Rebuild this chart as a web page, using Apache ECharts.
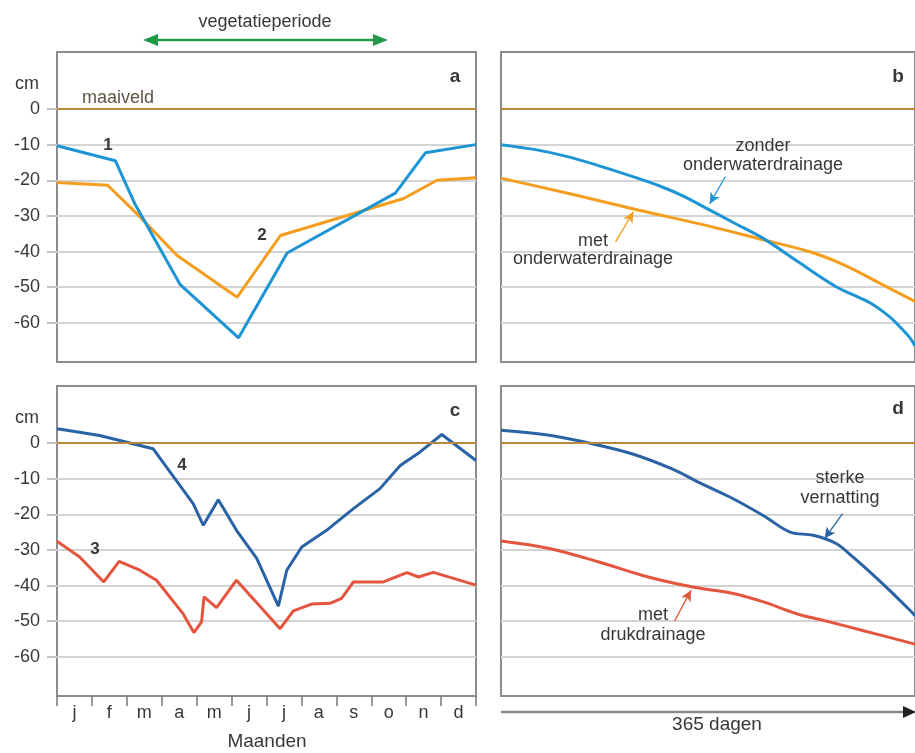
<!DOCTYPE html>
<html>
<head>
<meta charset="utf-8">
<script src="https://cdn.jsdelivr.net/npm/echarts@6/dist/echarts.min.js"></script>
<style>
html, body { margin: 0; padding: 0; background: #fff; }
#chart { width: 915px; height: 753px; }
</style>
</head>
<body>
<div id="chart"></div>
<script>
// maanden (onderas paneel c) en y-waarden van de rasterlijnen
var maanden = ['j', 'f', 'm', 'a', 'm', 'j', 'j', 'a', 's', 'o', 'n', 'd'];
var yTicks = [0, -10, -20, -30, -40, -50, -60];

// paneel a: grondwaterstand (cm) per maand, x = 0..12
var lijn1 = [[0, -10.3], [1.67, -14.5], [2.24, -26.8], [3.53, -49.3], [5.2, -64.2], [6.59, -40.4], [9.69, -23.6], [10.55, -12.3], [12, -10.0]];
var lijn2 = [[0, -20.6], [1.45, -21.4], [2.3, -29.5], [3.44, -41.1], [5.16, -52.8], [6.4, -35.5], [9.93, -25.1], [10.88, -20.0], [12, -19.3]];

// paneel b: duurlijnen over 365 dagen (x geschaald 0..12)
var zonderOWD = [[0, -10], [1, -11.4], [1.9, -13.3], [2.8, -15.8], [3.8, -18.9], [4.6, -21.6], [5.3, -24.5], [6, -28.1], [6.8, -32.2], [7.6, -36.3], [8.6, -42.8], [9.7, -49.8], [10.4, -53], [10.8, -55], [11.25, -58.2], [11.6, -61.5], [11.86, -64.3], [12, -66.5]];
var metOWD = [[0, -19.4], [2, -23.8], [4, -28.4], [6, -32.8], [7.6, -36.7], [9, -40.2], [10, -44], [11, -49], [12, -54]];

// paneel c: grondwaterstand per maand
var lijn3 = [[0, -27.6], [0.65, -32], [1.34, -39.0], [1.78, -33.2], [2.37, -35.7], [2.85, -38.5], [3.61, -47.9], [3.92, -53.2], [4.14, -50.2], [4.21, -43.2], [4.57, -46.2], [5.14, -38.5], [6.39, -52.1], [6.77, -47.1], [7.29, -45.2], [7.82, -45.0], [8.15, -43.6], [8.49, -39.0], [9.35, -39.0], [10.02, -36.4], [10.35, -37.6], [10.78, -36.3], [12, -39.9]];
var lijn4 = [[0, 4.0], [0.6, 3.1], [1.22, 2.1], [1.8, 0.7], [2.75, -1.6], [3.9, -17], [4.19, -23.1], [4.62, -15.9], [5.14, -24.5], [5.72, -32.4], [6.34, -45.8], [6.58, -35.7], [7.01, -29.2], [7.72, -24.5], [8.49, -18.4], [9.25, -12.8], [9.83, -6.3], [10.4, -2.5], [11.02, 2.4], [12, -4.9]];

// paneel d: duurlijnen
var sterkeVernatting = [[0, 3.6], [1.4, 2.2], [2.55, 0], [3.79, -3.0], [4.94, -7.2], [5.85, -11.6], [6.66, -15.3], [7.61, -20.4], [8.38, -25], [9.05, -25.9], [9.71, -28.2], [10.19, -31.9], [10.95, -38.5], [11.86, -47.0], [12, -48.5]];
var metDrukdrainage = [[0, -27.5], [1.4, -29.6], [2.84, -33.4], [4.27, -37.6], [5.6, -40.5], [6.66, -42.1], [7.61, -44.6], [8.57, -47.9], [9.52, -50.2], [10.48, -52.6], [11.86, -56.1], [12, -56.5]];

var kleuren = {
  blauw: '#1d95d4',
  oranje: '#f59d1e',
  donkerblauw: '#2a62a6',
  rood: '#e4553e',
  maaiveld: '#b8883c',
  raster: '#d4d4d4',
  kader: '#8c8c8c',
  tekst: '#383838'
};
var lettertype = '"Liberation Sans", Arial, sans-serif';

var panelen = [
  { left: 57, top: 52, width: 419 },
  { left: 501, top: 52, width: 418 },
  { left: 57, top: 386, width: 419 },
  { left: 501, top: 386, width: 418 }
];

var grids = panelen.map(function (p) {
  return {
    left: p.left, top: p.top, width: p.width, height: 310,
    show: true, borderColor: kleuren.kader, borderWidth: 2, backgroundColor: 'transparent'
  };
});

var xAxes = panelen.map(function (p, i) {
  return { type: 'value', gridIndex: i, min: 0, max: 12, show: false };
});
xAxes.push({
  type: 'category', gridIndex: 2, position: 'bottom', data: maanden, boundaryGap: true,
  axisLine: { show: false },
  axisTick: { show: true, interval: 0, length: 10, lineStyle: { color: '#777', width: 1.5 } },
  axisLabel: { interval: 0, margin: 8, fontSize: 18, color: kleuren.tekst, fontFamily: lettertype }
});

var yAxes = panelen.map(function (p, i) {
  var links = (i === 0 || i === 2);
  return {
    type: 'value', gridIndex: i, min: -71, max: 16,
    axisLine: { show: false },
    axisTick: { show: links, length: 10, customValues: yTicks, lineStyle: { color: '#c4c4c4', width: 2 } },
    axisLabel: { show: links, customValues: yTicks, margin: 17, fontSize: 18, color: kleuren.tekst, fontFamily: lettertype },
    splitLine: { show: true, lineStyle: { color: kleuren.raster, width: 2 } }
  };
});

function maaiveld(i) {
  return {
    type: 'line', xAxisIndex: i, yAxisIndex: i, data: [], z: 1,
    markLine: {
      silent: true, symbol: 'none', label: { show: false },
      lineStyle: { color: kleuren.maaiveld, width: 2.2, type: 'solid' },
      data: [{ yAxis: 0 }]
    }
  };
}

function lijn(i, data, kleur, glad, pijlen) {
  var s = {
    type: 'line', xAxisIndex: i, yAxisIndex: i, data: data, z: 3,
    showSymbol: false, smooth: glad ? 0.35 : false,
    lineStyle: { color: kleur, width: 3 }, itemStyle: { color: kleur }
  };
  if (pijlen) {
    s.markLine = {
      silent: true, symbol: ['none', 'arrow'], symbolSize: [8, 11],
      label: { show: false },
      lineStyle: { color: kleur, width: 1.3, type: 'solid' },
      data: pijlen.map(function (pp) { return [{ coord: pp[0] }, { coord: pp[1] }]; })
    };
  }
  return s;
}

var series = [
  maaiveld(0), maaiveld(1), maaiveld(2), maaiveld(3),
  lijn(0, lijn2, kleuren.oranje, false),
  lijn(0, lijn1, kleuren.blauw, false),
  lijn(1, metOWD, kleuren.oranje, true, [[[3.32, -37.3], [3.84, -28.8]]]),
  lijn(1, zonderOWD, kleuren.blauw, true, [[[6.5, -19.0], [6.05, -26.6]]]),
  lijn(2, lijn3, kleuren.rood, false),
  lijn(2, lijn4, kleuren.donkerblauw, false),
  lijn(3, metDrukdrainage, kleuren.rood, true, [[[5.03, -50.0], [5.51, -41.3]]]),
  lijn(3, sterkeVernatting, kleuren.donkerblauw, true, [[[9.9, -19.8], [9.38, -26.8]]])
];

function tekst(t, x, y, opt) {
  opt = opt || {};
  return {
    type: 'text', x: x, y: y, z: 10, silent: true,
    style: {
      text: t, align: opt.align || 'center', verticalAlign: 'middle',
      font: (opt.bold ? 'bold ' : '') + (opt.size || 18) + 'px ' + lettertype,
      fill: opt.kleur || kleuren.tekst
    }
  };
}

var graphic = [
  // vegetatieperiode pijl
  { type: 'line', shape: { x1: 152, y1: 40, x2: 378, y2: 40 }, style: { stroke: '#1f9a48', lineWidth: 2.5 } },
  { type: 'polygon', shape: { points: [[143, 40], [158, 34], [158, 46]] }, style: { fill: '#1f9a48' } },
  { type: 'polygon', shape: { points: [[388, 40], [373, 34], [373, 46]] }, style: { fill: '#1f9a48' } },
  tekst('vegetatieperiode', 265, 22),
  // tijdas paneel d
  { type: 'line', shape: { x1: 501, y1: 712, x2: 906, y2: 712 }, style: { stroke: '#8a8a8a', lineWidth: 2.5 } },
  { type: 'polygon', shape: { points: [[916, 712], [903, 706], [903, 718]] }, style: { fill: '#222' } },
  tekst('365 dagen', 717, 725, { size: 19 }),
  tekst('Maanden', 267, 742, { size: 19 }),
  tekst('cm', 27, 84),
  tekst('cm', 27, 418),
  tekst('maaiveld', 82, 98, { align: 'left', kleur: '#5e5444' }),
  tekst('1', 108, 145, { bold: true, size: 17 }),
  tekst('2', 262, 235, { bold: true, size: 17 }),
  tekst('3', 95, 549, { bold: true, size: 17 }),
  tekst('4', 182, 465, { bold: true, size: 17 }),
  tekst('a', 455, 77, { bold: true, size: 19 }),
  tekst('b', 898, 77, { bold: true, size: 19 }),
  tekst('c', 455, 411, { bold: true, size: 19 }),
  tekst('d', 898, 409, { bold: true, size: 19 }),
  tekst('zonder', 763, 146),
  tekst('onderwaterdrainage', 763, 165),
  tekst('met', 593, 241),
  tekst('onderwaterdrainage', 593, 259),
  tekst('sterke', 840, 478),
  tekst('vernatting', 840, 498),
  tekst('met', 653, 615),
  tekst('drukdrainage', 653, 635)
];

var chart = echarts.init(document.getElementById('chart'), null, { renderer: 'canvas' });
chart.setOption({
  animation: false,
  backgroundColor: '#fff',
  grid: grids,
  xAxis: xAxes,
  yAxis: yAxes,
  series: series,
  graphic: graphic
});
</script>
</body>
</html>
